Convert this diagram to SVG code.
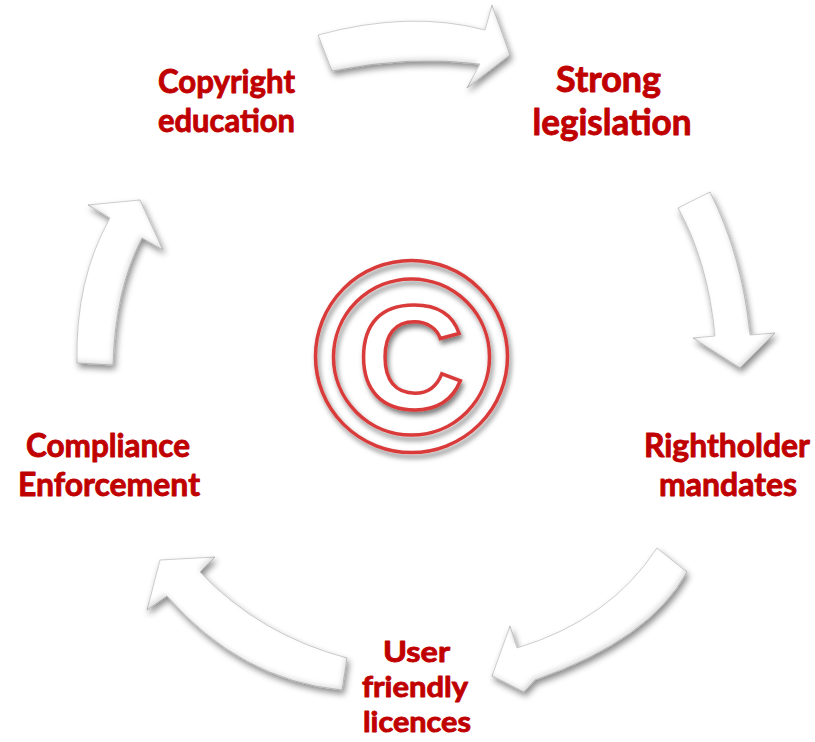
<svg xmlns="http://www.w3.org/2000/svg" width="815" height="742" viewBox="0 0 815 742">
  <defs>
    <filter id="arrowShadow" x="-25%" y="-25%" width="150%" height="150%">
      <feGaussianBlur in="SourceAlpha" stdDeviation="3" result="b1"/>
      <feOffset in="b1" dx="2" dy="4" result="o1"/>
      <feFlood flood-color="#000" flood-opacity="0.45"/>
      <feComposite in2="o1" operator="in" result="drop"/>
      <feGaussianBlur in="SourceAlpha" stdDeviation="2.5" result="b2"/>
      <feOffset in="b2" dx="-2" dy="-3" result="o2"/>
      <feComposite in="SourceAlpha" in2="o2" operator="out" result="edge"/>
      <feFlood flood-color="#000" flood-opacity="0.28"/>
      <feComposite in2="edge" operator="in" result="inner"/>
      <feMerge>
        <feMergeNode in="drop"/>
        <feMergeNode in="SourceGraphic"/>
        <feMergeNode in="inner"/>
      </feMerge>
    </filter>
    <filter id="symShadow" x="-10%" y="-10%" width="125%" height="125%">
      <feDropShadow dx="2" dy="4" stdDeviation="2.5" flood-color="#000" flood-opacity="0.5"/>
    </filter>
    <style>
      .arrow { fill: #ffffff; stroke: #c4c4c4; stroke-width: 0.8; stroke-linejoin: round; filter: url(#arrowShadow); }
      .lbl { font-family: Lato, "Open Sans", "Liberation Sans", sans-serif; font-weight: bold; fill: #C00000; stroke: #C00000; stroke-width: 0.9; stroke-linejoin: round; text-anchor: middle; }
      .ring { fill: none; stroke: #d93b3b; stroke-width: 3.5; filter: url(#symShadow); }
      .cglyph { font-family: "Liberation Sans", Arial, sans-serif; font-weight: bold; font-size: 148px; fill: #ffffff; stroke: #d93b3b; stroke-width: 3.5; text-anchor: middle; filter: url(#symShadow); }
    </style>
  </defs>
  <rect width="815" height="742" fill="#ffffff"/>

  <g id="connectors">
    <path class="arrow" d="M 318,35 Q 410,10 485,30 L 492,5 L 510,55 L 467,88 L 480,64 Q 410,55 332,71 Z"/>
    <path class="arrow" d="M 710,192 Q 742,255 750,335 L 775,333 L 740,368 L 693,338 L 715,336 Q 708,262 678,208 Z"/>
    <path class="arrow" d="M 657,548 Q 610,620 517,648 L 510,626 L 492,676 L 524,692 L 535,680 Q 650,640 687,572 Z"/>
    <path class="arrow" d="M 347,658 Q 260,635 200,572 L 215,557 L 160,560 L 147,610 L 167,596 Q 240,680 342,690 Z"/>
    <path class="arrow" d="M 77,363 Q 75,280 110,218 L 88,205 L 140,200 L 163,250 L 142,238 Q 115,290 113,365 Z"/>
  </g>

  <g id="copyright-symbol">
    <circle class="ring" cx="411.5" cy="356.5" r="96"/>
    <circle class="ring" cx="411.5" cy="357" r="78"/>
    <text class="cglyph" x="411" y="409">C</text>
  </g>

  <g id="node-copyright-education">
    <text class="lbl" font-size="33" x="226.5" y="93" textLength="137" lengthAdjust="spacingAndGlyphs">Copyright</text>
    <text class="lbl" font-size="33" x="226.5" y="132" textLength="137" lengthAdjust="spacingAndGlyphs">education</text>
  </g>

  <g id="node-strong-legislation">
    <text class="lbl" font-size="36.5" x="608.5" y="92" textLength="105" lengthAdjust="spacingAndGlyphs">Strong</text>
    <text class="lbl" font-size="36.5" x="612" y="135" textLength="159" lengthAdjust="spacingAndGlyphs">legislation</text>
  </g>

  <g id="node-rightholder-mandates">
    <text class="lbl" font-size="33" x="727" y="457" textLength="166" lengthAdjust="spacingAndGlyphs">Rightholder</text>
    <text class="lbl" font-size="33" x="728" y="496" textLength="138" lengthAdjust="spacingAndGlyphs">mandates</text>
  </g>

  <g id="node-user-friendly-licences">
    <text class="lbl" font-size="29" stroke-width="1.1" x="416.5" y="662" textLength="67" lengthAdjust="spacingAndGlyphs">User</text>
    <text class="lbl" font-size="29" stroke-width="1.1" x="415" y="697" textLength="106" lengthAdjust="spacingAndGlyphs">friendly</text>
    <text class="lbl" font-size="29" stroke-width="1.1" x="417" y="732" textLength="108" lengthAdjust="spacingAndGlyphs">licences</text>
  </g>

  <g id="node-compliance-enforcement">
    <text class="lbl" font-size="33" x="108" y="457" textLength="164" lengthAdjust="spacingAndGlyphs">Compliance</text>
    <text class="lbl" font-size="33" x="109" y="496" textLength="182" lengthAdjust="spacingAndGlyphs">Enforcement</text>
  </g>
</svg>
